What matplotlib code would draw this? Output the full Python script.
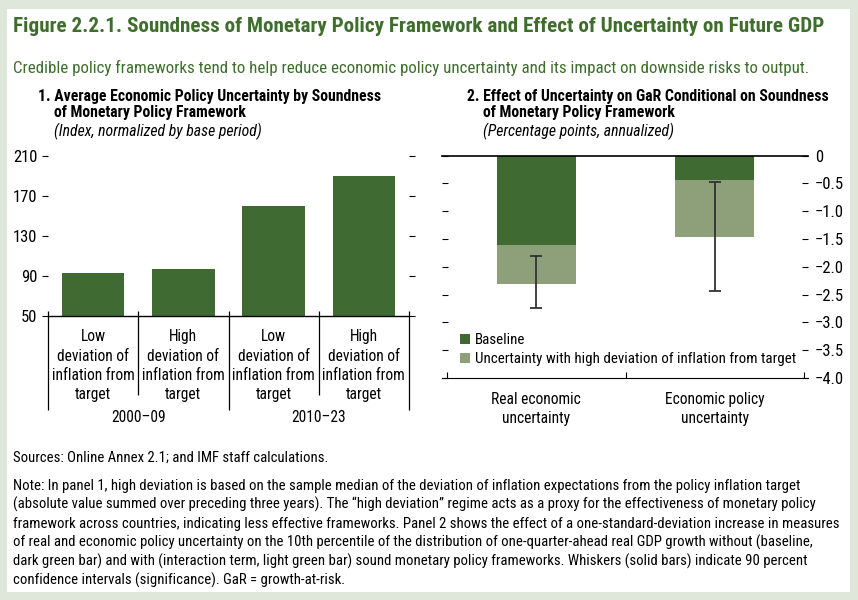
import numpy as np
import matplotlib
matplotlib.use('Agg')
import matplotlib.pyplot as plt
from matplotlib import font_manager as fm
from matplotlib.patches import Rectangle
from matplotlib.ticker import FuncFormatter

#%% Data
p1_categories = [
    'Low\ndeviation of\ninflation from\ntarget',
    'High\ndeviation of\ninflation from\ntarget',
    'Low\ndeviation of\ninflation from\ntarget',
    'High\ndeviation of\ninflation from\ntarget',
]
p1_periods = ['2000–09', '2010–23']
p1_values = [93, 97, 160, 190]

p2_categories = ['Real economic\nuncertainty', 'Economic policy\nuncertainty']
p2_baseline = [-1.60, -0.43]
p2_interaction = [-0.70, -1.03]
p2_ci_high = [-1.81, -0.48]
p2_ci_low = [-2.74, -2.43]
p2_ticks = [-4.0, -3.5, -3.0, -2.5, -2.0, -1.5, -1.0, -0.5, 0.0]

title = 'Figure 2.2.1. Soundness of Monetary Policy Framework and Effect of Uncertainty on Future GDP'
subtitle = 'Credible policy frameworks tend to help reduce economic policy uncertainty and its impact on downside risks to output.'
sources = 'Sources: Online Annex 2.1; and IMF staff calculations.'
note_lines = [
    'Note: In panel 1, high deviation is based on the sample median of the deviation of inflation expectations from the policy inflation target',
    '(absolute value summed over preceding three years). The \u201chigh deviation\u201d regime acts as a proxy for the effectiveness of monetary policy',
    'framework across countries, indicating less effective frameworks. Panel 2 shows the effect of a one-standard-deviation increase in measures',
    'of real and economic policy uncertainty on the 10th percentile of the distribution of one-quarter-ahead real GDP growth without (baseline,',
    'dark green bar) and with (interaction term, light green bar) sound monetary policy frameworks. Whiskers (solid bars) indicate 90 percent',
    'confidence intervals (significance). GaR = growth-at-risk.',
]

#%% Style
avail = {f.name for f in fm.fontManager.ttflist}
narrow = next((f for f in ['Roboto Condensed', 'Liberation Sans Narrow', 'Open Sans Condensed', 'Arial Narrow']
               if f in avail), 'Liberation Sans')
plt.rcParams['font.family'] = [narrow, 'DejaVu Sans']

DARK = '#3f6b32'
LIGHT = '#8ea07a'
GREEN_TXT = '#3d6e2b'
BORDER = '#dfe6da'
TICK_FS = 12
LABEL_FS = 11.2
HEAD_FS = 11.3

W, H = 858, 600
def fx(px): return px / W
def fy(py): return 1 - py / H

fig = plt.figure(figsize=(W / 100, H / 100), dpi=100)
fig.patch.set_facecolor(BORDER)
fig.add_artist(Rectangle((fx(7), fy(592)), fx(843), (592 - 9) / H, transform=fig.transFigure,
                         facecolor='white', edgecolor='none', zorder=-10))

fig.text(fx(13), fy(26), title, fontsize=15.2, fontweight='bold', color=GREEN_TXT, va='center')
fig.text(fx(13), fy(68), subtitle, fontsize=12.2, color=GREEN_TXT, va='center')

#%% Panel 1
fig.text(fx(38), fy(96), '1. Average Economic Policy Uncertainty by Soundness', fontsize=HEAD_FS, fontweight='bold', va='center')
fig.text(fx(54), fy(113), 'of Monetary Policy Framework', fontsize=HEAD_FS, fontweight='bold', va='center')
fig.text(fx(54), fy(131), '(Index, normalized by base period)', fontsize=HEAD_FS, style='italic', va='center')

ax1 = fig.add_axes([fx(48), fy(316), (409 - 48) / W, 160 / H])
ax1.patch.set_visible(False)
x1 = np.arange(len(p1_values))
ax1.bar(x1, p1_values, width=0.69, color=DARK)
ax1.set_xlim(-0.5, 3.5)
ax1.set_ylim(50, 210)
ax1.set_yticks(np.arange(50, 211, 40))
ax1.tick_params(axis='y', left=True, right=True, direction='out', length=4.5, width=0.8, labelsize=TICK_FS, pad=3)
for s in ['left', 'right', 'top']:
    ax1.spines[s].set_visible(False)
ax1.spines['bottom'].set_linewidth(1)
ax1.set_xticks(x1, p1_categories)
ax1.tick_params(axis='x', length=0, pad=9.5, labelsize=LABEL_FS)
for t in ax1.get_xticklabels():
    t.set_linespacing(1.36)
xt = ax1.get_xaxis_transform()
ax1.vlines([-0.5, 1.5, 3.5], -0.5875, 0.031, transform=xt, colors='black', lw=0.9, clip_on=False)
ax1.vlines([0.5, 2.5], -0.494, 0.031, transform=xt, colors='black', lw=0.9, clip_on=False)
for i, period in enumerate(p1_periods):
    ax1.annotate(period, xy=(2 * i + 0.5, 0), xycoords=xt, xytext=(0, -102 * 0.72),
                 textcoords='offset points', ha='center', va='center', fontsize=LABEL_FS)

#%% Panel 2
fig.text(fx(467), fy(96), '2. Effect of Uncertainty on GaR Conditional on Soundness', fontsize=HEAD_FS, fontweight='bold', va='center')
fig.text(fx(483), fy(113), 'of Monetary Policy Framework', fontsize=HEAD_FS, fontweight='bold', va='center')
fig.text(fx(483), fy(131), '(Percentage points, annualized)', fontsize=HEAD_FS, style='italic', va='center')

ax2 = fig.add_axes([fx(442), fy(378), 366 / W, 222.3 / H])
ax2.patch.set_visible(False)
x2 = np.arange(len(p2_baseline))
total = np.array(p2_baseline) + np.array(p2_interaction)
ax2.bar(x2, p2_baseline, width=0.443, color=DARK, label='Baseline')
ax2.bar(x2, p2_interaction, bottom=p2_baseline, width=0.443, color=LIGHT,
        label='Uncertainty with high deviation of inflation from target')
ax2.errorbar(x2, total, yerr=[total - np.array(p2_ci_low), np.array(p2_ci_high) - total],
             fmt='none', ecolor='#333333', elinewidth=1.3, capsize=4, capthick=1.3)
ax2.axhline(0, color='black', lw=1.2, clip_on=False)
ax2.set_xlim(-0.528, 1.522)
ax2.set_ylim(-4, 0)
ax2.set_yticks(p2_ticks)
ax2.yaxis.set_major_formatter(FuncFormatter(
    lambda v, p: '0' if abs(v) < 1e-9 else f'{v:.1f}'.replace('-', '\u2212')))
ax2.tick_params(axis='y', left=True, right=True, labelleft=False, labelright=True,
                direction='in', length=4.5, width=0.8, labelsize=TICK_FS, pad=5)
for s in ['left', 'right', 'top']:
    ax2.spines[s].set_visible(False)
ax2.set_xticks(x2, p2_categories)
ax2.set_xticks([-0.5, 0.5, 1.5], minor=True)
ax2.tick_params(axis='x', which='major', length=0, pad=10, labelsize=LABEL_FS)
ax2.tick_params(axis='x', which='minor', direction='in', length=4, width=0.8)
for t in ax2.get_xticklabels():
    t.set_linespacing(1.36)
ax2.legend(loc='upper left', bbox_to_anchor=(fx(460), fy(333)), bbox_transform=fig.transFigure,
           frameon=False, fontsize=10.8, handlelength=0.65, handleheight=0.65, handletextpad=0.35,
           labelspacing=0.35, borderpad=0, borderaxespad=0)

#%% Notes
NOTE_FS = 10.6
fig.text(fx(13), fy(458), sources, fontsize=NOTE_FS, va='center')
for i, line in enumerate(note_lines):
    fig.text(fx(13), fy(486 + 18.8 * i), line, fontsize=NOTE_FS, va='center')

fig.savefig('out.png', dpi=100, facecolor=fig.get_facecolor())
